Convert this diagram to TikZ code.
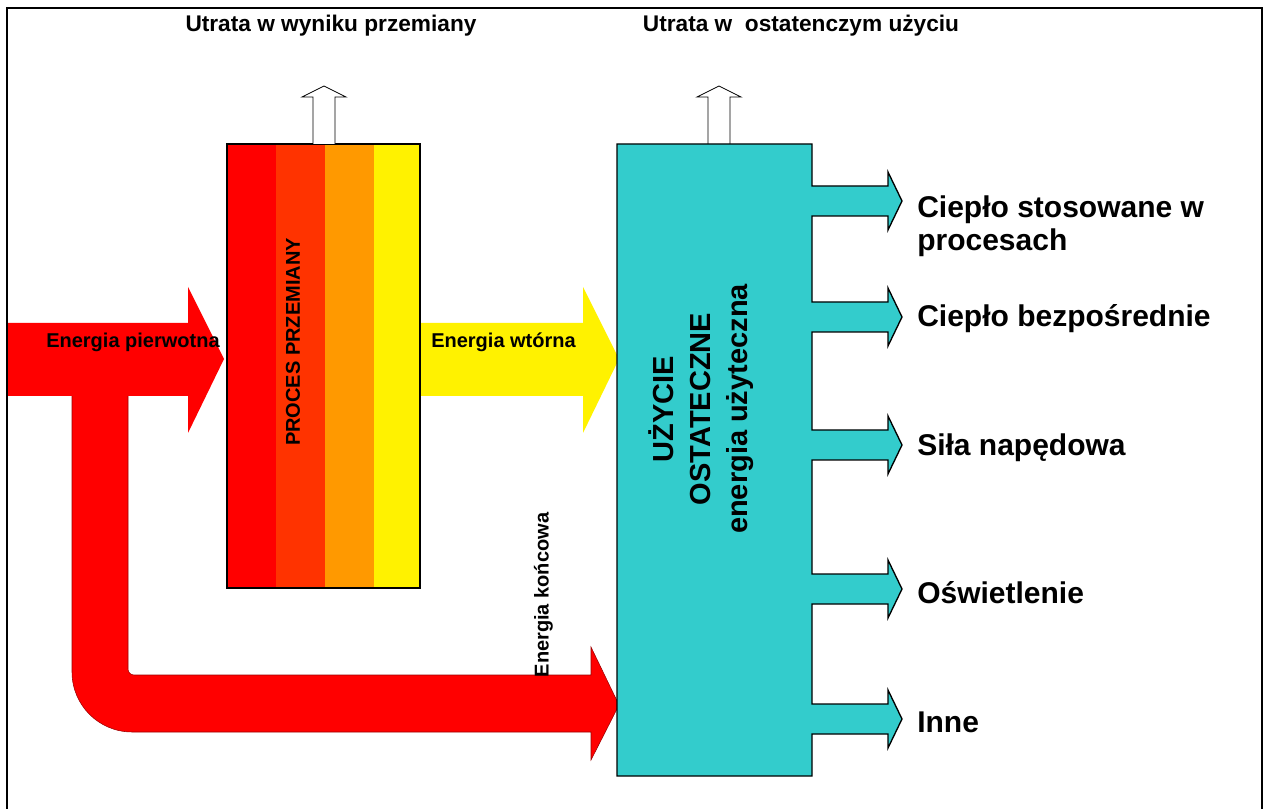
\documentclass[tikz,border=0pt]{standalone}
\usepackage{fontspec}
\setmainfont{Liberation Sans}
\usetikzlibrary{positioning}
\definecolor{uzyciecyan}{RGB}{51,204,204}
\definecolor{przemred}{RGB}{255,51,0}
\definecolor{przemorange}{RGB}{255,153,0}

\begin{document}
\begin{tikzpicture}[x=0.75pt, y=-0.75pt,
    title/.style={font=\fontsize{17}{20}\selectfont\bfseries, inner sep=0pt, anchor=base},
    flowlbl/.style={font=\fontsize{15}{18}\selectfont\bfseries, inner sep=0pt},
    endlbl/.style={font=\fontsize{22.5}{25}\selectfont\bfseries, inner sep=0pt, anchor=west, align=left},
    lossarrow/.style={draw=black, fill=white, line width=0.6pt}]
    \useasboundingbox (0,0) rectangle (1265,809);
    \def\sw{15}   % half width of side arrow shaft
    \def\hw{29}   % half width of side arrow head
    % Frame
    \draw[line width=1.6pt] (7,809) -- (7,8) -- (1262,8) -- (1262,809);
    % Final energy (L shaped)
    \filldraw[red, draw=red!60!black, line width=0.4pt]
      (72,392) -- (72,672) arc[start angle=180, end angle=90, radius=60]
      -- (591,732) -- (591,760) -- (619,705) -- (591,647) -- (591,675)
      -- (134,675) arc[start angle=90, end angle=180, radius=6]
      -- (128,392) -- cycle;
    % Primary and secondary energy
    \fill[red] (8,323) -- (188,323) -- (188,287) -- (224,359)
      -- (188,433) -- (188,396) -- (8,396) -- cycle;
    \fill[yellow] (420,323) -- (583,323) -- (583,287) -- (619,359)
      -- (583,433) -- (583,396) -- (420,396) -- cycle;
    % Conversion process, colour bands
    \foreach \x/\w/\c in {227/49/red, 276/49/przemred, 325/49/przemorange, 374/46/yellow} {
      \fill[\c] (\x,144) rectangle (\x+\w,588);
    }
    \draw[line width=1pt] (227,144) rectangle (420,588);
    % Losses
    \foreach \cx in {324, 719} {
      \draw[lossarrow] (\cx-11,144) -- (\cx-11,97) -- (\cx-22,97) -- (\cx,86)
        -- (\cx+22,97) -- (\cx+11,97) -- (\cx+11,144);
    }
    % End use box with outgoing arrows
    \filldraw[fill=uzyciecyan, draw=black, line width=1pt]
      (617,144) -- (812,144)
      \foreach \c in {201,317,445,589,719} {
        -- (812,\c-\sw) -- (888,\c-\sw) -- (888,\c-\hw) -- (902,\c)
        -- (888,\c+\hw) -- (888,\c+\sw) -- (812,\c+\sw)
      }
      -- (812,776) -- (617,776) -- cycle;
    % Labels
    \node[title] (tprzem) at (331,32) {Utrata w wyniku przemiany};
    \node[title] (tuzyc) at (801,32) {Utrata w\ \ ostatenczym użyciu};
    \node[flowlbl, anchor=base west] (pierw) at (46,348) {Energia pierwotna};
    \node[flowlbl, anchor=base west] (wtor) at (431,348) {Energia wtórna};
    \node[flowlbl, rotate=90] (proces) at (293,342) {PROCES PRZEMIANY};
    \node[flowlbl, rotate=90] (konc) at (543.5,595) {Energia końcowa};
    \node[rotate=90, align=center, inner sep=0pt,
      font=\fontsize{21.75}{27.75}\selectfont\bfseries] (uzycie) at (701,409)
      {UŻYCIE\\OSTATECZNE\\energia użyteczna};
    \foreach \c/\txt [count=\i] in {226/{Ciepło stosowane w\\procesach},
        319/{Ciepło bezpośrednie}, 448/{Siła napędowa},
        593/{Oświetlenie}, 722/{Inne}} {
      \node[endlbl] (cel\i) at (917,\c) {\txt};
    }
\end{tikzpicture}
\end{document}
